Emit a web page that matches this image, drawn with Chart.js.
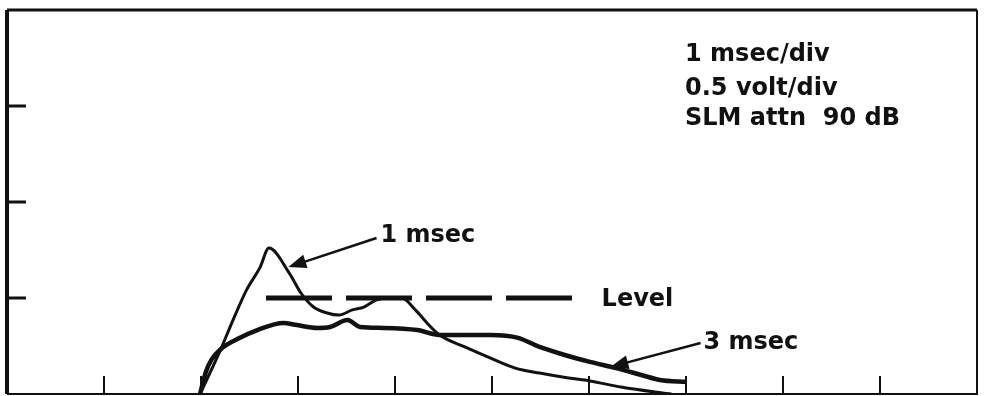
<!DOCTYPE html>
<html>
<head>
<meta charset="utf-8">
<script src="https://cdn.jsdelivr.net/npm/chart.js@4"></script>
<style>
  html,body{margin:0;padding:0;background:#fff;}
  #wrap{width:985px;height:396px;}
</style>
</head>
<body>
<div id="wrap"><canvas id="c" width="985" height="396"></canvas></div>
<script>
// oscilloscope trace — x in msec (1 msec/div), y in volts (0.5 volt/div)
const trace1msX = [1.99,2.20,2.33,2.47,2.61,2.70,2.91,3.03,3.16,3.30,3.42,3.56,3.68,3.81,3.94,4.07,4.21,4.33,4.46,4.72,4.98,5.24,5.49,5.79,6.01,6.33,6.68,6.85];
const trace1msY = [0,0.229,0.385,0.542,0.661,0.760,0.630,0.526,0.453,0.422,0.411,0.438,0.453,0.490,0.500,0.500,0.438,0.370,0.307,0.245,0.188,0.135,0.109,0.083,0.068,0.036,0.010,0];
const trace3msX = [1.99,2.05,2.11,2.20,2.37,2.58,2.85,2.99,3.20,3.33,3.51,3.64,3.88,4.23,4.46,4.74,4.99,5.27,5.49,5.75,6.01,6.28,6.54,6.73,7.01];
const trace3msY = [0,0.115,0.180,0.232,0.285,0.333,0.370,0.359,0.344,0.349,0.385,0.349,0.344,0.333,0.307,0.307,0.307,0.292,0.245,0.203,0.167,0.135,0.099,0.073,0.063];
const levelX = [2.67,5.83];
const levelY = [0.5,0.5];

const xTicks = [1,2,3,4,5,6,7,8,9];
const yTicks = [0.5,1.0,1.5];

// annotation text and arrows (data units)
const notes = [
  {t:'1 msec', x:3.85, y:0.823},
  {t:'Level', x:6.13, y:0.49},
  {t:'3 msec', x:7.18, y:0.266},
  {t:'1 msec/div', x:6.99, y:1.765},
  {t:'0.5 volt/div', x:6.99, y:1.588},
  {t:'SLM attn  90 dB', x:6.99, y:1.432},
];
const arrows = [
  {x0:3.81, y0:0.8125, x1:2.90, y1:0.661},
  {x0:7.15, y0:0.266, x1:6.22, y1:0.141},
];

const INK = '#111';
const FONT = 'bold 24px "DejaVu Sans", sans-serif';

const pts = (xs,ys)=>xs.map((x,i)=>({x, y:ys[i]}));

const scopePlugin = {
  id:'scope',
  afterDraw(chart){
    const {ctx, chartArea:a, scales:{x, y}} = chart;
    ctx.save();
    ctx.strokeStyle = INK;
    ctx.lineCap = 'butt';
    // frame
    ctx.lineWidth = 4;
    ctx.beginPath(); ctx.moveTo(a.left, a.bottom); ctx.lineTo(a.left, a.top); ctx.stroke();
    ctx.lineWidth = 3;
    ctx.beginPath(); ctx.moveTo(a.left, a.top); ctx.lineTo(a.right, a.top); ctx.stroke();
    ctx.lineWidth = 2;
    ctx.beginPath(); ctx.moveTo(a.left, a.bottom); ctx.lineTo(a.right, a.bottom); ctx.lineTo(a.right, a.top); ctx.stroke();
    // inner ticks
    xTicks.forEach(v=>{
      const px = x.getPixelForValue(v);
      ctx.lineWidth = 2;
      ctx.beginPath(); ctx.moveTo(px, a.bottom); ctx.lineTo(px, a.bottom-18); ctx.stroke();
    });
    yTicks.forEach(v=>{
      const py = y.getPixelForValue(v);
      ctx.lineWidth = 3;
      ctx.beginPath(); ctx.moveTo(a.left, py); ctx.lineTo(a.left+19, py); ctx.stroke();
    });
    // arrows
    arrows.forEach(r=>{
      const x0 = x.getPixelForValue(r.x0), y0 = y.getPixelForValue(r.y0);
      const x1 = x.getPixelForValue(r.x1), y1 = y.getPixelForValue(r.y1);
      const ang = Math.atan2(y1-y0, x1-x0);
      ctx.lineWidth = 2.5;
      ctx.beginPath(); ctx.moveTo(x0,y0); ctx.lineTo(x1 - 8*Math.cos(ang), y1 - 8*Math.sin(ang)); ctx.stroke();
      ctx.fillStyle = INK;
      ctx.beginPath();
      ctx.moveTo(x1,y1);
      ctx.lineTo(x1 - 18*Math.cos(ang) + 7*Math.sin(ang), y1 - 18*Math.sin(ang) - 7*Math.cos(ang));
      ctx.lineTo(x1 - 18*Math.cos(ang) - 7*Math.sin(ang), y1 - 18*Math.sin(ang) + 7*Math.cos(ang));
      ctx.closePath(); ctx.fill();
    });
    // text
    ctx.fillStyle = INK;
    ctx.font = FONT;
    ctx.textAlign = 'left';
    ctx.textBaseline = 'middle';
    notes.forEach(n=>ctx.fillText(n.t, x.getPixelForValue(n.x), y.getPixelForValue(n.y)));
    ctx.restore();
  }
};

new Chart(document.getElementById('c'), {
  type:'line',
  data:{
    datasets:[
      {label:'1 msec', data:pts(trace1msX, trace1msY), borderColor:INK, borderWidth:3, cubicInterpolationMode:'monotone', pointRadius:0},
      {label:'3 msec', data:pts(trace3msX, trace3msY), borderColor:INK, borderWidth:4.5, cubicInterpolationMode:'monotone', pointRadius:0},
      {label:'Level', data:pts(levelX, levelY), borderColor:INK, borderWidth:5, borderDash:[66,14], pointRadius:0},
    ]
  },
  options:{
    responsive:false, animation:false,
    layout:{padding:{left:7, top:10, right:8, bottom:2}},
    plugins:{legend:{display:false}, tooltip:{enabled:false}},
    scales:{
      x:{type:'linear', min:0, max:10, display:false},
      y:{type:'linear', min:0, max:2, display:false}
    }
  },
  plugins:[scopePlugin]
});
</script>
</body>
</html>
